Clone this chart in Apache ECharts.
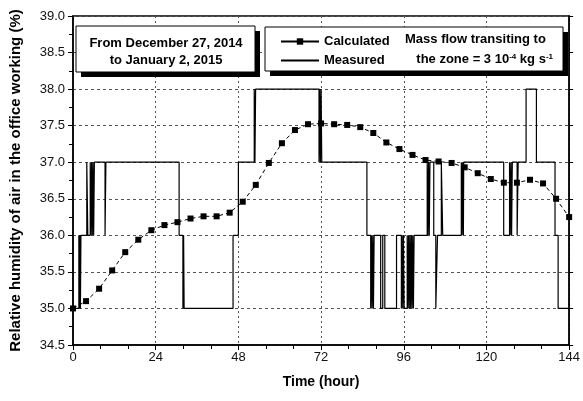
<!DOCTYPE html>
<html>
<head>
<meta charset="utf-8">
<script src="https://cdn.jsdelivr.net/npm/echarts@6/dist/echarts.min.js"></script>
<style>
  html, body { margin: 0; padding: 0; background: #fff; }
  #main { width: 583px; height: 401px; }
</style>
</head>
<body>
<div id="main"></div>
<script>
// calculated RH (every ~3.8 h)
const calcTime = [0, 3.79, 7.58, 11.37, 15.16, 18.95, 22.74, 26.53, 30.32, 34.11, 37.89, 41.68, 45.47,
  49.26, 53.05, 56.84, 60.63, 64.42, 68.21, 72.0, 75.79, 79.58, 83.37, 87.16, 90.95, 94.74, 98.53,
  102.32, 106.11, 109.89, 113.68, 117.47, 121.26, 125.05, 128.84, 132.63, 136.42, 140.21, 144]
const calcRH = [35.0, 35.1, 35.27, 35.52, 35.77, 35.94, 36.07, 36.14, 36.18, 36.23, 36.26, 36.26, 36.31,
  36.46, 36.69, 36.99, 37.26, 37.44, 37.52, 37.53, 37.52, 37.51, 37.48, 37.4, 37.27, 37.18, 37.1,
  37.03, 37.01, 36.99, 36.93, 36.85, 36.77, 36.72, 36.72, 36.76, 36.71, 36.5, 36.25]

// measured RH (sensor steps of 1 %), change points: time -> new value
const measTime = [0, 1.7, 1.85, 2.0, 2.15, 2.3, 4.0, 4.3, 5.0, 5.2, 5.4, 5.6, 5.8, 6.0, 6.2, 9.3, 9.55,
  30.8, 31.9, 32.1, 32.25, 46.45, 48.0, 52.6, 52.8, 53.0, 71.4, 71.6, 71.8, 72.0, 72.2,
  85.3, 86.4, 86.6, 86.8, 87.0, 87.2, 87.4, 89.3, 89.9, 90.5, 93.9,
  95.3, 95.5, 95.7, 95.9, 96.1, 97.0, 97.2, 97.4, 97.6, 97.8, 98.0, 98.2, 98.4, 98.6, 98.8, 99.0,
  102.8, 103.0, 103.2, 103.4, 103.6, 104.7, 105.3, 105.8, 106.9, 107.3,
  112.7, 112.9, 113.1, 113.3, 113.4, 125.0, 126.7, 126.9, 127.1, 127.3, 127.5,
  128.9, 129.2, 131.5, 134.5, 139.9, 140.8, 144]
const measRH = [35, 36, 35, 36, 35, 36, 37, 36, 37, 36, 37, 36, 37, 36, 37, 36, 37,
  36, 35, 36, 35, 36, 37, 38, 37, 38, 37, 38, 37, 38, 37,
  36, 35, 36, 35, 36, 35, 36, 35, 36, 35, 36,
  35, 36, 35, 36, 35, 36, 35, 36, 35, 36, 35, 36, 35, 36, 35, 36,
  37, 36, 37, 36, 37, 36, 35, 36, 37, 36,
  37, 36, 37, 36, 37, 36, 37, 36, 37, 36, 37,
  36, 37, 38, 37, 36, 35, 35]

const font = 'Liberation Sans, Arial, sans-serif'
const myChart = echarts.init(document.getElementById('main'))

const option = {
  animation: false,
  backgroundColor: '#fff',
  grid: { left: 72, right: 10, top: 16, bottom: 56, show: true, borderColor: '#000', borderWidth: 1.5 },
  legend: {
    orient: 'vertical',
    left: 275,
    top: 30,
    itemWidth: 38,
    itemHeight: 8,
    itemGap: 6,
    z: 10,
    textStyle: { fontFamily: font, fontSize: 13, fontWeight: 'bold', color: '#000' },
    data: [
      { name: 'Calculated', lineStyle: { type: 'solid' } },
      { name: 'Measured', itemStyle: { opacity: 0 } }
    ]
  },
  xAxis: [{
    type: 'value',
    min: 0,
    max: 144,
    interval: 24,
    name: 'Time (hour)',
    nameLocation: 'middle',
    nameGap: 30,
    nameTextStyle: { fontFamily: font, fontSize: 14, fontWeight: 'bold', color: '#000' },
    axisLine: { lineStyle: { color: '#000', width: 1.5 } },
    axisTick: { length: 5, lineStyle: { color: '#000' } },
    minorTick: { show: true, splitNumber: 3, length: 4, lineStyle: { color: '#000' } },
    axisLabel: { fontFamily: font, fontSize: 13, color: '#111', margin: 6 },
    splitLine: { show: true, lineStyle: { color: '#555', type: [2, 3] } }
  }],
  yAxis: [{
    type: 'value',
    min: 34.5,
    max: 39,
    interval: 0.5,
    name: 'Relative humidity of air in the office working (%)',
    nameLocation: 'middle',
    nameGap: 50,
    nameTextStyle: { fontFamily: font, fontSize: 15, fontWeight: 'bold', color: '#000' },
    axisLine: { show: true, lineStyle: { color: '#000', width: 1.5 } },
    axisTick: { show: true, length: 5, lineStyle: { color: '#000' } },
    minorTick: { show: true, splitNumber: 2, length: 4, lineStyle: { color: '#000' } },
    axisLabel: { fontFamily: font, fontSize: 13, color: '#111', margin: 8, formatter: v => v.toFixed(1) },
    splitLine: { show: true, lineStyle: { color: '#555', type: [3, 3] } }
  }, {
    type: 'value',
    position: 'right',
    min: 34.5,
    max: 39,
    interval: 0.5,
    axisLine: { show: true, lineStyle: { color: '#000', width: 1.5 } },
    axisTick: { show: true, length: 4, lineStyle: { color: '#000' } },
    axisLabel: { show: false },
    splitLine: { show: false }
  }],
  graphic: [
    // date box
    { type: 'rect', z: 3, shape: { x: 81, y: 31, width: 179, height: 46 }, style: { fill: '#000' } },
    { type: 'rect', z: 3, shape: { x: 76, y: 26, width: 179, height: 46 }, style: { fill: '#fff', stroke: '#000', lineWidth: 1 } },
    { type: 'text', z: 5, x: 166, y: 43, style: { text: 'From December 27, 2014', font: 'bold 13px ' + font, fill: '#000', align: 'center', verticalAlign: 'middle' } },
    { type: 'text', z: 5, x: 166, y: 60, style: { text: 'to January 2, 2015', font: 'bold 13px ' + font, fill: '#000', align: 'center', verticalAlign: 'middle' } },
    // legend box
    { type: 'rect', z: 3, shape: { x: 270, y: 32, width: 298, height: 44 }, style: { fill: '#000' } },
    { type: 'rect', z: 3, shape: { x: 265, y: 27, width: 298, height: 44 }, style: { fill: '#fff', stroke: '#000', lineWidth: 1 } },
    { type: 'text', z: 5, x: 405, y: 39.5, style: { text: 'Mass flow transiting to', font: 'bold 13px ' + font, fill: '#000', align: 'left', verticalAlign: 'middle' } },
    {
      type: 'text', z: 5, x: 553, y: 59.5,
      style: {
        text: '{a|the zone = 3 10}{s|-4}{a| kg s}{s|-1}',
        align: 'right',
        verticalAlign: 'middle',
        rich: {
          a: { fontFamily: font, fontSize: 13, fontWeight: 'bold', color: '#000' },
          s: { fontFamily: font, fontSize: 8, fontWeight: 'bold', color: '#000', verticalAlign: 'top', padding: [0, 0, 6, 0] }
        }
      }
    }
  ],
  series: [
    {
      name: 'Measured',
      type: 'line',
      step: 'end',
      showSymbol: false,
      symbol: 'none',
      z: 2,
      lineStyle: { color: '#000', width: 1.2 },
      itemStyle: { color: '#000' },
      data: measTime.map((t, i) => [t, measRH[i]])
    },
    {
      name: 'Calculated',
      type: 'line',
      symbol: 'rect',
      symbolSize: 6,
      z: 3,
      lineStyle: { color: '#000', width: 1, type: [4, 3] },
      itemStyle: { color: '#000' },
      data: calcTime.map((t, i) => [t, calcRH[i]])
    }
  ]
}

myChart.setOption(option)
</script>
</body>
</html>
